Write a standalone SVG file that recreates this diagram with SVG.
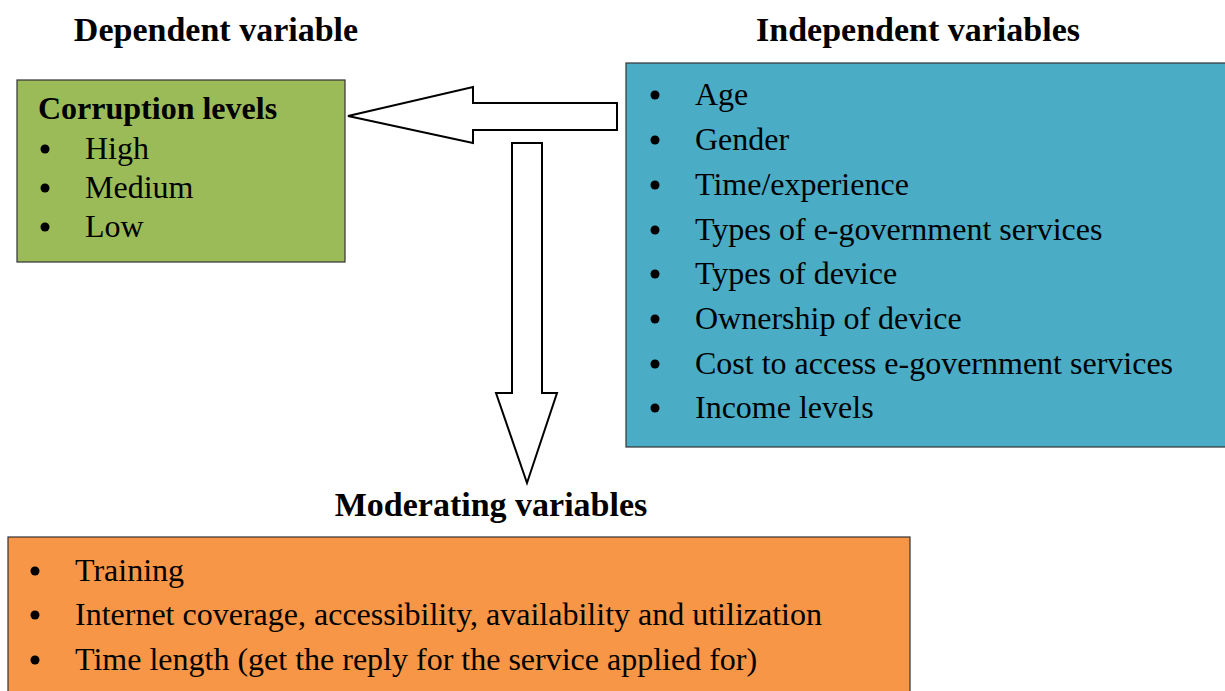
<svg xmlns="http://www.w3.org/2000/svg" width="1225" height="691" viewBox="0 0 1225 691">
  <style>
    .title { font-family: "Liberation Serif", "Times New Roman", serif; font-weight: bold; font-size: 34px; fill: #000; }
    .sub { font-family: "Liberation Serif", "Times New Roman", serif; font-weight: bold; font-size: 32px; fill: #000; }
    .item { font-family: "Liberation Serif", "Times New Roman", serif; font-size: 32px; fill: #000; }
    .box { stroke: #333; stroke-width: 1.2; }
    .arrow { fill: #fff; stroke: #000; stroke-width: 2; stroke-linejoin: miter; }
  </style>
  <defs>
    <circle id="dot" r="4.5" fill="#000"/>
  </defs>
  <rect width="1225" height="691" fill="#fff"/>

  <!-- Section headings -->
  <text class="title" x="216" y="41" text-anchor="middle">Dependent variable</text>
  <text class="title" x="918" y="41" text-anchor="middle">Independent variables</text>
  <text class="title" x="491" y="516" text-anchor="middle">Moderating variables</text>

  <!-- Dependent variable box -->
  <g id="dependent">
    <rect class="box" x="17" y="80" width="328" height="182" fill="#9BBB59"/>
    <text class="sub" x="38" y="119">Corruption levels</text>
    <use href="#dot" x="45" y="149"/>
    <text class="item" x="85" y="159">High</text>
    <use href="#dot" x="45" y="188"/>
    <text class="item" x="85" y="198">Medium</text>
    <use href="#dot" x="45" y="227"/>
    <text class="item" x="85" y="237">Low</text>
  </g>

  <!-- Independent variables box -->
  <g id="independent">
    <rect class="box" x="626" y="63" width="610" height="384" fill="#4BACC6"/>
    <use href="#dot" x="655" y="95"/>
    <text class="item" x="695" y="105">Age</text>
    <use href="#dot" x="655" y="140"/>
    <text class="item" x="695" y="150">Gender</text>
    <use href="#dot" x="655" y="185"/>
    <text class="item" x="695" y="195">Time/experience</text>
    <use href="#dot" x="655" y="230"/>
    <text class="item" x="695" y="240">Types of e-government services</text>
    <use href="#dot" x="655" y="274"/>
    <text class="item" x="695" y="284">Types of device</text>
    <use href="#dot" x="655" y="319"/>
    <text class="item" x="695" y="329">Ownership of device</text>
    <use href="#dot" x="655" y="364"/>
    <text class="item" x="695" y="374">Cost to access e-government services</text>
    <use href="#dot" x="655" y="408"/>
    <text class="item" x="695" y="418">Income levels</text>
  </g>

  <!-- Moderating variables box -->
  <g id="moderating">
    <rect class="box" x="8" y="537" width="902" height="170" fill="#F79646"/>
    <use href="#dot" x="35" y="571"/>
    <text class="item" x="75" y="581">Training</text>
    <use href="#dot" x="35" y="615"/>
    <text class="item" x="75" y="625">Internet coverage, accessibility, availability and utilization</text>
    <use href="#dot" x="35" y="660"/>
    <text class="item" x="75" y="670">Time length (get the reply for the service applied for)</text>
  </g>

  <!-- Block arrows -->
  <g id="connectors">
    <polygon class="arrow" points="617,103 617,130 473,130 473,143 348,116 473,87 473,103"/>
    <polygon class="arrow" points="512,143 542,143 542,393 557,393 527,483 496,393 512,393"/>
  </g>
</svg>
